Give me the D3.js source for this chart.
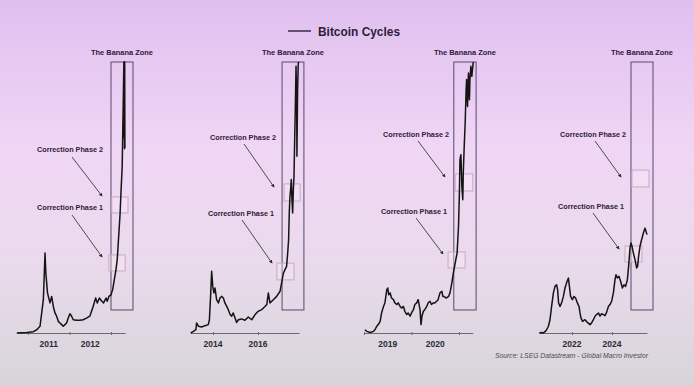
<!DOCTYPE html>
<html>
<head>
<meta charset="utf-8">
<script src="https://cdn.jsdelivr.net/npm/d3@7"></script>
<style>
  body { margin: 0; }
  svg { display: block; }
</style>
</head>
<body>
<div id="chart"></div>
<script>
// values: x = decimal year, y = index (100 = top of the banana box)
const cycle2011 = [[2010.73,0],[2010.97,0.2],[2011.13,0.5],[2011.21,1.2],[2011.29,2.5],[2011.33,7.4],[2011.37,12.3],
  [2011.41,29.5],[2011.43,22.1],[2011.47,14.8],[2011.49,13.5],[2011.53,11.1],[2011.57,13.5],[2011.61,9.8],[2011.65,7.4],
  [2011.69,6.2],[2011.73,4.3],[2011.77,3.7],[2011.81,3.1],[2011.85,2.5],[2011.89,3.1],[2011.93,3.7],[2011.97,5.5],
  [2012.01,7.1],[2012.05,6.2],[2012.09,4.9],[2012.17,4.7],[2012.25,4.7],[2012.33,4.9],[2012.41,5.5],[2012.49,6.2],
  [2012.57,9.8],[2012.63,12.9],[2012.67,11.1],[2012.72,12.9],[2012.78,11.7],[2012.82,11.1],[2012.88,12.9],[2012.91,11.7],
  [2012.95,13.5],[2013.00,14.1],[2013.04,16.0],[2013.08,19.7],[2013.12,23.4],[2013.15,27.1],[2013.18,34.4],[2013.22,44.3],
  [2013.24,51.7],[2013.27,61.5],[2013.28,71.3],[2013.30,89.8],[2013.31,100],[2013.315,72],[2013.32,100],[2013.325,68],
  [2013.33,100],[2013.335,68.3]];

const cycle2015 = [[2013.01,0],[2013.13,0.6],[2013.24,1.2],[2013.27,3.7],[2013.35,2.5],[2013.50,2.2],[2013.64,2.7],
  [2013.79,3.1],[2013.84,4.9],[2013.90,14.8],[2013.94,22.8],[2013.99,17.2],[2014.04,14.8],[2014.09,16.6],[2014.16,12.3],
  [2014.24,11.1],[2014.31,12.9],[2014.39,13.5],[2014.46,12.9],[2014.53,11.1],[2014.61,9.8],[2014.68,8.6],[2014.76,6.8],
  [2014.83,6.2],[2014.90,7.4],[2014.98,5.5],[2015.05,3.9],[2015.13,4.9],[2015.27,5.2],[2015.42,4.7],[2015.57,5.9],
  [2015.72,4.9],[2015.87,6.8],[2016.01,8.0],[2016.16,8.6],[2016.31,9.8],[2016.39,10.5],[2016.46,14.8],[2016.53,11.1],
  [2016.68,12.3],[2016.83,13.5],[2016.98,15.4],[2017.05,18.5],[2017.13,22.1],[2017.20,23.4],[2017.27,24.6],[2017.32,29.5],
  [2017.36,34.4],[2017.39,44.3],[2017.42,50.4],[2017.45,52.9],[2017.48,56.6],[2017.51,49.2],[2017.54,44.3],[2017.57,52.9],
  [2017.60,57.8],[2017.63,71.3],[2017.66,83.6],[2017.69,98.4],[2017.72,83.6],[2017.73,65.2],[2017.76,89.8],[2017.79,99.6],
  [2017.82,100]];

const cycle2019 = [[2019.02,1.2],[2019.06,0.6],[2019.13,0.2],[2019.20,0.6],[2019.23,1.2],[2019.27,2.5],[2019.30,3.1],
  [2019.34,4.3],[2019.37,7.4],[2019.41,9.8],[2019.44,11.1],[2019.48,16.0],[2019.50,16.6],[2019.52,14.1],[2019.55,14.8],
  [2019.58,12.9],[2019.62,12.3],[2019.65,11.1],[2019.69,10.5],[2019.72,11.1],[2019.76,9.8],[2019.79,9.2],[2019.83,9.8],
  [2019.86,8.0],[2019.90,6.8],[2019.93,7.4],[2019.97,6.2],[2020.00,7.4],[2020.04,8.6],[2020.07,10.5],[2020.11,11.1],
  [2020.14,12.3],[2020.16,10.5],[2020.18,8.6],[2020.20,3.1],[2020.22,6.2],[2020.25,8.0],[2020.28,8.6],[2020.32,9.8],
  [2020.35,11.1],[2020.39,11.7],[2020.42,10.5],[2020.46,11.1],[2020.49,11.1],[2020.53,11.7],[2020.56,12.3],[2020.60,14.8],
  [2020.64,15.4],[2020.66,13.5],[2020.68,13.5],[2020.73,12.9],[2020.78,13.5],[2020.81,14.8],[2020.85,18.5],[2020.88,22.1],
  [2020.92,25.8],[2020.94,27.7],[2020.96,29.5],[2020.99,39.4],[2021.01,52.9],[2021.02,64.0],[2021.04,65.8],[2021.05,60.3],
  [2021.06,54.1],[2021.08,49.2],[2021.09,59.0],[2021.11,68.9],[2021.13,77.5],[2021.15,89.8],[2021.16,93.5],[2021.18,83.6],
  [2021.19,91.0],[2021.20,95.9],[2021.22,86.1],[2021.23,93.5],[2021.25,98.4],[2021.27,94.7],[2021.30,100]];

const cycle2023 = [[2020.37,0],[2020.48,0.2],[2020.57,0],[2020.65,0.5],[2020.73,1.2],[2020.82,2.5],[2020.90,4.9],
  [2020.98,9.8],[2021.07,14.8],[2021.15,17.2],[2021.23,17.8],[2021.28,16.0],[2021.33,11.1],[2021.40,9.8],[2021.48,11.1],
  [2021.57,13.5],[2021.65,16.6],[2021.73,18.5],[2021.82,20.3],[2021.87,17.2],[2021.93,13.5],[2022.02,12.3],[2022.10,13.5],
  [2022.18,12.9],[2022.27,11.1],[2022.35,9.8],[2022.40,7.4],[2022.45,5.5],[2022.53,4.3],[2022.65,4.9],[2022.77,3.9],
  [2022.90,3.1],[2022.98,3.7],[2023.07,4.9],[2023.15,6.2],[2023.23,6.8],[2023.32,7.4],[2023.40,6.2],[2023.48,7.1],
  [2023.57,6.8],[2023.65,6.4],[2023.73,7.6],[2023.82,9.8],[2023.90,10.5],[2023.98,11.7],[2024.07,14.8],[2024.15,19.7],
  [2024.20,21.5],[2024.27,20.3],[2024.35,20.9],[2024.43,19.1],[2024.52,16.6],[2024.60,17.8],[2024.68,17.2],[2024.77,19.7],
  [2024.83,24.6],[2024.90,31.4],[2024.95,33.2],[2025.00,32.0],[2025.07,29.5],[2025.15,27.1],[2025.23,24.0],[2025.28,24.6],
  [2025.33,28.3],[2025.40,32.0],[2025.48,34.4],[2025.57,36.9],[2025.65,38.7],[2025.70,37.5],[2025.75,36.3]];

// axis ticks and labels
const tickYears = [[2011, 2012, 2013], [2014, 2016], [2019, 2020, 2021], [2022, 2024]];
const labelYears = [[2011, 2012], [2014, 2016], [2019, 2020], [2022, 2024]];

// banana zones [from, to] in years, correction boxes [x0, x1, yLow, yHigh]
const bananaZones = [[2013.0, 2013.53], [2017.07, 2018.04], [2020.89, 2021.36], [2024.95, 2026.05]];
const phase1Boxes = [[2012.95, 2013.34, 22.9, 28.8], [2016.84, 2017.60, 19.6, 25.8], [2020.77, 2021.13, 24.0, 29.9], [2024.65, 2025.5, 26.2, 32.1]];
const phase2Boxes = [[2013.02, 2013.41, 44.3, 50.2], [2017.16, 2017.87, 48.7, 55.0], [2020.92, 2021.29, 52.4, 58.7], [2025.0, 2025.85, 53.9, 60.1]];
const bananaBottom = 8.5;

//________________________________________________________________________
const width = 694;
const height = 386;

// layout of each panel: one known year at a pixel, pixels per year, axis extent
const layout = [
  {anchor: [2011, 28], k: 41.5, extent: [2010.73, 2013.34], midLabels: true,
   lab2: [70, 149], arr2: [[72, 157], [102, 196]], lab1: [70, 207], arr1: [[72, 215], [102, 257]]},
  {anchor: [2014, 213], k: 22.5, extent: [2013.0, 2017.82], midLabels: false,
   lab2: [243, 137], arr2: [[244, 144], [274, 187]], lab1: [241, 213], arr1: [[242, 220], [272, 263]]},
  {anchor: [2019, 364], k: 47.5, extent: [2019.0, 2021.29], midLabels: true,
   lab2: [416, 134], arr2: [[418, 141], [445, 177]], lab1: [414, 211], arr1: [[416, 218], [443, 254]]},
  {anchor: [2022, 572], k: 20, extent: [2020.35, 2025.75], midLabels: false,
   lab2: [593, 134], arr2: [[595, 141], [621, 177]], lab1: [591, 206], arr1: [[593, 213], [619, 249]]}
];
const series = [cycle2011, cycle2015, cycle2019, cycle2023];

const svg = d3.select('#chart').append('svg')
    .attr('width', width).attr('height', height);

const defs = svg.append('defs');
const grad = defs.append('linearGradient').attr('id', 'bg').attr('x1', 0).attr('y1', 0).attr('x2', 0).attr('y2', 1);
[['0%', '#e0bfef'], ['38%', '#f0d6f5'], ['68%', '#eadaec'], ['100%', '#d7d5d9']].forEach(s => {
  grad.append('stop').attr('offset', s[0]).attr('stop-color', s[1]);
});
defs.append('marker').attr('id', 'arrow')
    .attr('viewBox', '0 0 10 10').attr('refX', 8).attr('refY', 5)
    .attr('markerWidth', 4).attr('markerHeight', 4).attr('orient', 'auto')
  .append('path').attr('d', 'M0,0L10,5L0,10z').attr('fill', '#2a2a2a');

svg.append('rect').attr('width', width).attr('height', height).attr('fill', 'url(#bg)');

const labelFont = 'Liberation Sans, Arial, sans-serif';

// title with legend line
svg.append('line').attr('x1', 288).attr('x2', 311).attr('y1', 31).attr('y2', 31)
    .attr('stroke', '#3a2c48').attr('stroke-width', 1.5);
svg.append('text').attr('x', 318).attr('y', 35.5)
    .attr('font-family', labelFont)
    .attr('font-weight', 'bold').attr('font-size', '13.5px').attr('fill', '#2e2038')
    .attr('textLength', 82).attr('lengthAdjust', 'spacingAndGlyphs')
    .text('Bitcoin Cycles');

const y = d3.scaleLinear().domain([0, 100]).range([333, 62]);

function createPanel(data, i) {
  const L = layout[i];
  const px = v => L.anchor[1] + (v - L.anchor[0]) * L.k;
  const x = d3.scaleLinear().domain(L.extent).range([px(L.extent[0]), px(L.extent[1])]);
  const g = svg.append('g');

  // banana zone
  const bz = bananaZones[i];
  g.append('rect')
      .attr('x', x(bz[0])).attr('y', y(100))
      .attr('width', x(bz[1]) - x(bz[0])).attr('height', y(bananaBottom) - y(100))
      .attr('fill', 'none').attr('stroke', '#64567a').attr('stroke-width', 1.1);
  g.append('text')
      .attr('x', (x(bz[0]) + x(bz[1])) / 2).attr('y', 54.5)
      .attr('text-anchor', 'middle')
      .attr('font-family', labelFont).attr('font-weight', 'bold').attr('font-size', '8px')
      .attr('textLength', 62).attr('lengthAdjust', 'spacingAndGlyphs')
      .attr('fill', '#2e2038').text('The Banana Zone');

  // correction boxes
  [phase1Boxes[i], phase2Boxes[i]].forEach(b => {
    g.append('rect')
        .attr('x', x(b[0])).attr('y', y(b[3]))
        .attr('width', x(b[1]) - x(b[0])).attr('height', y(b[2]) - y(b[3]))
        .attr('fill', 'rgba(255,235,245,0.35)').attr('stroke', '#c9a9c4').attr('stroke-width', 1);
  });

  // axis
  const xAxis = d3.axisBottom(x).tickValues(tickYears[i]).tickFormat('').tickSize(3).tickSizeOuter(0);
  const ax = g.append('g').attr('transform', 'translate(0,333)').call(xAxis);
  ax.select('.domain').attr('stroke', '#6e6a72').attr('stroke-width', 1);
  ax.selectAll('.tick line').attr('stroke', '#6e6a72').attr('transform', 'translate(0,-1)');
  g.selectAll('.yearlab').data(labelYears[i]).join('text')
      .attr('x', d => x(L.midLabels ? d + 0.5 : d)).attr('y', 347)
      .attr('text-anchor', 'middle')
      .attr('font-family', labelFont).attr('font-weight', 'bold')
      .attr('font-size', '8.5px').attr('fill', '#2b2b33')
      .text(d => d);

  // price line
  const line = d3.line().x(d => x(d[0])).y(d => y(d[1]));
  g.append('path').datum(data)
      .attr('fill', 'none').attr('stroke', '#141414').attr('stroke-width', 1.5)
      .attr('stroke-linejoin', 'round').attr('d', line);

  // correction labels and arrows
  [[L.lab2, L.arr2, 'Correction Phase 2'], [L.lab1, L.arr1, 'Correction Phase 1']].forEach(a => {
    g.append('text').attr('x', a[0][0]).attr('y', a[0][1] + 3)
        .attr('text-anchor', 'middle')
        .attr('font-family', labelFont).attr('font-weight', 'bold').attr('font-size', '8px')
        .attr('textLength', 66).attr('lengthAdjust', 'spacingAndGlyphs')
        .attr('fill', '#2e2038').text(a[2]);
    g.append('line')
        .attr('x1', a[1][0][0]).attr('y1', a[1][0][1]).attr('x2', a[1][1][0]).attr('y2', a[1][1][1])
        .attr('stroke', '#3a3a3a').attr('stroke-width', 0.9).attr('marker-end', 'url(#arrow)');
  });
}

for (let i = 0; i < series.length; i++) {
  createPanel(series[i], i);
}

svg.append('text').attr('x', 495).attr('y', 357.5)
    .attr('font-family', labelFont).attr('font-style', 'italic')
    .attr('font-size', '6.8px').attr('fill', '#4a4a52')
    .text('Source: LSEG Datastream - Global Macro Investor');
</script>
</body>
</html>
